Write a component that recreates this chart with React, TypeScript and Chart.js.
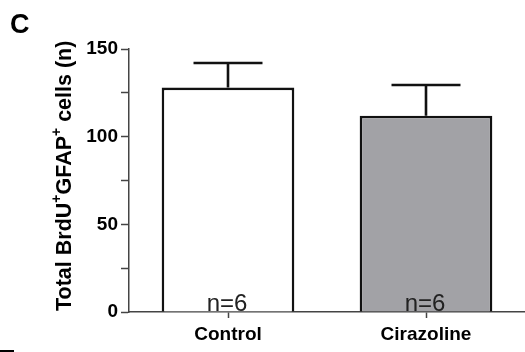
import React, { useEffect, useRef } from "react";
import { Chart, registerables } from "chart.js";

Chart.register(...registerables);

const categories = ["Control", "Cirazoline"];
const means = [128, 112];
const sems = [14, 17.5];
const groupSizes = ["n=6", "n=6"];
const fillColors = ["#ffffff", "#a2a2a6"];
const yTicks = [0, 25, 50, 75, 100, 125, 150];

const FONT = "'Liberation Sans', Arial, Helvetica, sans-serif";

const annotations = {
  id: "annotations",
  afterDatasetsDraw(chart: any) {
    const { ctx } = chart;
    const meta = chart.getDatasetMeta(0);
    const yScale = chart.scales.y;
    ctx.save();
    // error bars (upper half only)
    ctx.strokeStyle = "#111";
    ctx.lineWidth = 2.6;
    meta.data.forEach((bar: any, i: number) => {
      const x = bar.x;
      const yTop = yScale.getPixelForValue(means[i]);
      const yErr = yScale.getPixelForValue(means[i] + sems[i]);
      const half = bar.width * 0.26;
      ctx.beginPath();
      ctx.moveTo(x, yTop);
      ctx.lineTo(x, yErr);
      ctx.moveTo(x - half, yErr);
      ctx.lineTo(x + half, yErr);
      ctx.stroke();
    });
    // group sizes inside bars
    ctx.fillStyle = "#222";
    ctx.font = `24px ${FONT}`;
    ctx.textAlign = "center";
    ctx.textBaseline = "alphabetic";
    meta.data.forEach((bar: any, i: number) => {
      ctx.fillText(groupSizes[i], bar.x - 1, yScale.getPixelForValue(0) - 1);
    });
    ctx.restore();
  },
  afterDraw(chart: any) {
    const { ctx } = chart;
    ctx.save();
    // panel letter
    ctx.fillStyle = "#000";
    ctx.font = `bold 27px ${FONT}`;
    ctx.textAlign = "left";
    ctx.textBaseline = "alphabetic";
    ctx.fillText("C", 10, 33);
    // rotated y-axis title with superscripts
    ctx.translate(71, 311);
    ctx.rotate(-Math.PI / 2);
    const parts: [string, boolean][] = [
      ["Total BrdU", false],
      ["+", true],
      ["GFAP", false],
      ["+", true],
      [" cells (n)", false],
    ];
    let x = 0;
    parts.forEach(([t, sup]) => {
      ctx.font = sup ? `bold 14px ${FONT}` : `bold 21.5px ${FONT}`;
      ctx.fillText(t, x, sup ? -10 : 0);
      x += ctx.measureText(t).width;
    });
    ctx.restore();
    // edge of the next panel
    ctx.save();
    ctx.fillStyle = "#000";
    ctx.fillRect(0, 350, 14, 2);
    ctx.restore();
  },
};

export default function App() {
  const ref = useRef<HTMLCanvasElement>(null);
  useEffect(() => {
    if (!ref.current) return;
    const chart = new Chart(ref.current, {
      type: "bar",
      data: {
        labels: categories,
        datasets: [
          {
            data: means,
            backgroundColor: fillColors,
            borderColor: "#111",
            borderWidth: 2.6,
            barPercentage: 0.67,
            categoryPercentage: 1,
          },
        ],
      },
      options: {
        animation: false,
        responsive: false,
        maintainAspectRatio: false,
        layout: { padding: { top: 49, left: 0, right: 0, bottom: 0 } },
        plugins: {
          legend: { display: false },
          tooltip: { enabled: false },
          title: { display: false },
        },
        scales: {
          x: {
            offset: true,
            grid: {
              offset: false,
              drawOnChartArea: false,
              drawTicks: true,
              tickLength: 6,
              tickWidth: 1.5,
              tickColor: "#444",
            },
            border: { display: true, color: "#444", width: 1.5 },
            ticks: {
              color: "#000",
              padding: 5,
              font: { family: FONT, size: 19, weight: "bold" },
            },
            afterFit(scale: any) {
              scale.height = 40;
            },
          },
          y: {
            min: 0,
            max: 150,
            afterBuildTicks(scale: any) {
              scale.ticks = yTicks.map((v) => ({ value: v }));
            },
            grid: {
              drawOnChartArea: false,
              drawTicks: true,
              tickLength: 8,
              tickWidth: 1.5,
              tickColor: "#444",
            },
            border: { display: true, color: "#444", width: 1.5 },
            ticks: {
              color: "#000",
              padding: 3,
              font: { family: FONT, size: 19, weight: "bold" },
              callback: (v: any) => (Number(v) % 50 === 0 ? String(v) : ""),
            },
            afterFit(scale: any) {
              scale.width = 129;
            },
          },
        },
      },
      plugins: [annotations],
    });
    return () => chart.destroy();
  }, []);
  return (
    <div style={{ position: "fixed", left: 0, top: 0, width: 525, height: 352, background: "#fff" }}>
      <canvas ref={ref} width={525} height={352} style={{ width: 525, height: 352 }} />
    </div>
  );
}
